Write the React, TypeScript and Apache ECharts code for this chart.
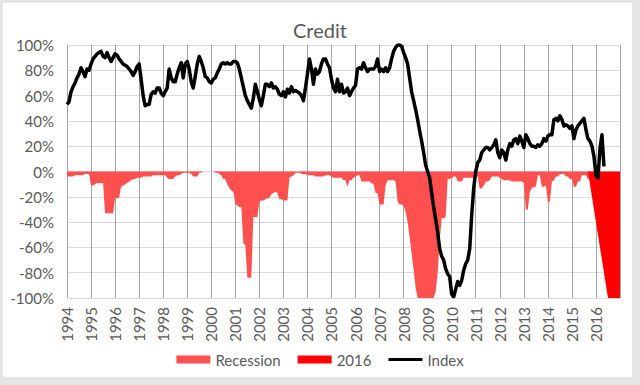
import React, { useEffect, useRef } from "react";
import * as echarts from "echarts";

// Monthly values starting Jan 1994
const START_YEAR = 1994;
const yTicks = [-100, -80, -60, -40, -20, 0, 20, 40, 60, 80, 100];
const yearLabels = Array.from({ length: 23 }, (_, i) => String(1994 + i));

const indexValues = [
  // 1994
  53, 55, 63, 67, 70, 74, 77, 82, 79, 75, 81, 80,
  // 1995
  85, 89, 91, 93, 94, 95, 91, 90, 94, 90, 87, 90,
  // 1996
  93, 92, 89, 87, 85, 84, 83, 81, 79, 76, 79, 83,
  // 1997
  85, 73, 60, 52, 53, 53, 61, 63, 62, 66, 66, 62,
  // 1998
  60, 63, 66, 81, 74, 71, 71, 77, 82, 86, 74, 85,
  // 1999
  87, 81, 71, 66, 75, 85, 91, 87, 82, 75, 74, 71,
  // 2000
  70, 73, 74, 78, 81, 85, 86, 85, 86, 85, 85, 87,
  // 2001
  87, 86, 81, 74, 67, 60, 56, 53, 50, 58, 69, 63,
  // 2002
  57, 52, 60, 69, 69, 67, 70, 66, 67, 65, 61, 60,
  // 2003
  63, 59, 65, 62, 67, 63, 64, 63, 62, 60, 56, 66,
  // 2004
  77, 89, 81, 69, 81, 77, 79, 85, 89, 89, 85, 82,
  // 2005
  73, 66, 63, 73, 63, 69, 62, 63, 66, 60, 63, 66,
  // 2006
  68, 81, 82, 81, 86, 82, 79, 81, 81, 81, 83, 89,
  // 2007
  79, 81, 79, 82, 79, 82, 89, 95, 98, 100, 100, 99,
  // 2008
  94, 90, 85, 74, 63, 56, 49, 41, 32, 24, 15, 5,
  // 2009
  0, -5, -17, -28, -38, -48, -61, -67, -70, -77, -81, -83,
  // 2010
  -97, -99, -93, -87, -90, -86, -78, -73, -70, -61, -34, -13,
  // 2011
  0, 7, 9, 15, 17, 19, 19, 17, 19, 21, 25, 15,
  // 2012
  11, 17, 15, 9, 17, 22, 20, 25, 26, 22, 28, 24,
  // 2013
  19, 29, 26, 22, 20, 20, 19, 21, 20, 22, 26, 24,
  // 2014
  28, 29, 29, 41, 42, 40, 44, 41, 36, 37, 36, 34,
  // 2015
  36, 26, 33, 36, 38, 40, 42, 33, 26, 24, 20, 12,
  // 2016
  -3, -5, 18, 29, 4,
];

const recessionValues = [
  // 1994
  -4, -4, -4, -4, -3, -3, -3, -3, -3, -2, -2, -2,
  // 1995
  -11, -11, -10, -9, -9, -9, -9, -33, -33, -33, -33, -33,
  // 1996
  -21, -21, -21, -12, -11, -10, -9, -8, -7, -6, -6, -5,
  // 1997
  -5, -5, -4, -4, -4, -4, -4, -3, -3, -3, -3, -3,
  // 1998
  -3, -3, -5, -6, -6, -6, -4, -3, -3, -2, -1, -1,
  // 1999
  -1, -1, -2, -4, -4, -4, -1, -1, 0, 0, 0, 0,
  // 2000
  0, 0, -1, -1, -2, -3, -6, -6, -10, -13, -15, -16,
  // 2001
  -25, -27, -28, -28, -57, -58, -84, -84, -84, -36, -36, -36,
  // 2002
  -24, -23, -23, -22, -21, -21, -18, -17, -16, -17, -22, -22,
  // 2003
  -23, -23, -23, -5, -4, -3, -1, -1, -1, -2, -2, -2,
  // 2004
  -3, -3, -3, -3, -4, -4, -4, -4, -4, -3, -3, -3,
  // 2005
  -4, -5, -5, -5, -5, -5, -7, -7, -12, -7, -7, -5,
  // 2006
  -4, -3, -3, -8, -8, -8, -8, -8, -9, -10, -17, -17,
  // 2007
  -26, -26, -26, -11, -7, -7, -7, -7, -8, -24, -26, -26,
  // 2008
  -27, -32, -40, -52, -65, -78, -92, -100, -100, -100, -100, -100,
  // 2009
  -100, -100, -100, -100, -95, -80, -55, -37, -37, -36, -6, -6,
  // 2010
  -5, -4, -4, -8, -8, -8, -5, -5, -5, -5, -5, -5,
  // 2011
  -4, -4, -14, -13, -11, -8, -8, -7, -4, -4, -4, -4,
  // 2012
  -5, -6, -7, -7, -7, -7, -8, -8, -8, -8, -8, -8,
  // 2013
  -9, -30, -30, -16, -13, -12, -12, -3, -3, -12, -12, -11,
  // 2014
  -24, -24, -8, -7, -4, -4, -2, -2, -2, -4, -4, -6,
  // 2015
  -6, -12, -12, -8, -8, -3, -3, -3, -6, -6,
];

// 2016 series vertices: [decimal year, value]
const y2016Times = [2015.667, 2016.5, 2017];
const y2016Values = [0, -100, -100];

const FONT = "Lato, 'Open Sans', sans-serif";
const GREY_TEXT = "#595959";
// thin horizontal band inside a 34x8 box (corner specks fix the bounding box)
const LINE_ICON =
  "path://M0,0 L0.01,0 L0,0.01 Z M0,2.4 L34,2.4 L34,5.6 L0,5.6 Z M34,8 L33.99,8 L34,7.99 Z";

export default function App() {
  const ref = useRef<HTMLDivElement>(null);

  useEffect(() => {
    if (!ref.current) return;
    const chart = echarts.init(ref.current, undefined, { renderer: "svg" });

    const toSeries = (vals: number[]) =>
      vals.map((v, i) => [START_YEAR + i / 12, v]);

    const option: any = {
      animation: false,
      backgroundColor: "#E6E6E6",
      textStyle: { fontFamily: FONT },
      graphic: [
        {
          type: "rect",
          z: -10,
          silent: true,
          shape: { x: 2, y: 2, width: 631, height: 376 },
          style: { fill: "#FFFFFF", stroke: "#D6D6D6", lineWidth: 1 },
        },
      ],
      title: {
        text: "Credit",
        left: "center",
        top: 15,
        textStyle: {
          fontFamily: FONT,
          fontSize: 20,
          fontWeight: "normal",
          color: GREY_TEXT,
        },
      },
      legend: {
        top: 347,
        left: "center",
        itemWidth: 34,
        itemHeight: 8,
        itemGap: 17,
        textStyle: { fontFamily: FONT, fontSize: 15, color: GREY_TEXT },
        data: [
          { name: "Recession", icon: "rect", itemStyle: { color: "#FF5050" } },
          { name: "2016", icon: "rect", itemStyle: { color: "#FF0000" } },
          { name: "Index", icon: LINE_ICON, itemStyle: { color: "#000000" } },
        ],
      },
      grid: { left: 67, right: 20, top: 45, bottom: 87 },
      xAxis: {
        type: "value",
        min: 1994,
        max: 2017,
        interval: 1,
        axisLine: { show: false },
        axisTick: { show: false },
        axisLabel: {
          rotate: 90,
          margin: 9,
          fontFamily: FONT,
          fontSize: 15,
          color: GREY_TEXT,
          showMaxLabel: false,
          formatter: (v: number) =>
            yearLabels.indexOf(String(v)) >= 0 ? String(v) : "",
        },
        splitLine: { show: true, lineStyle: { color: "#A3A3A3", width: 1 } },
      },
      yAxis: {
        type: "value",
        min: yTicks[0],
        max: yTicks[yTicks.length - 1],
        interval: 20,
        axisLine: { show: false },
        axisTick: { show: false },
        axisLabel: {
          margin: 13,
          fontFamily: FONT,
          fontSize: 15,
          color: GREY_TEXT,
          formatter: (v: number) => v + "%",
        },
        splitLine: { show: true, lineStyle: { color: "#D9D9D9", width: 1 } },
      },
      series: [
        {
          name: "Recession",
          type: "line",
          data: toSeries(recessionValues),
          symbol: "none",
          color: "#FF5050",
          lineStyle: { width: 0, color: "#FF5050" },
          itemStyle: { color: "#FF5050" },
          areaStyle: { color: "#FF5050", opacity: 1 },
          z: 2,
        },
        {
          name: "2016",
          type: "line",
          data: y2016Times.map((t, i) => [t, y2016Values[i]]),
          symbol: "none",
          color: "#FF0000",
          lineStyle: { width: 0, color: "#FF0000" },
          itemStyle: { color: "#FF0000" },
          areaStyle: { color: "#FF0000", opacity: 1 },
          z: 3,
        },
        {
          name: "Index",
          type: "line",
          data: toSeries(indexValues),
          symbol: "none",
          color: "#000000",
          lineStyle: { width: 3.5, color: "#000000", join: "round" },
          itemStyle: { color: "#000000" },
          z: 4,
        },
      ],
    };

    chart.setOption(option);
    return () => chart.dispose();
  }, []);

  return (
    <div
      ref={ref}
      style={{ position: "absolute", left: 0, top: 0, width: 640, height: 385 }}
    />
  );
}
